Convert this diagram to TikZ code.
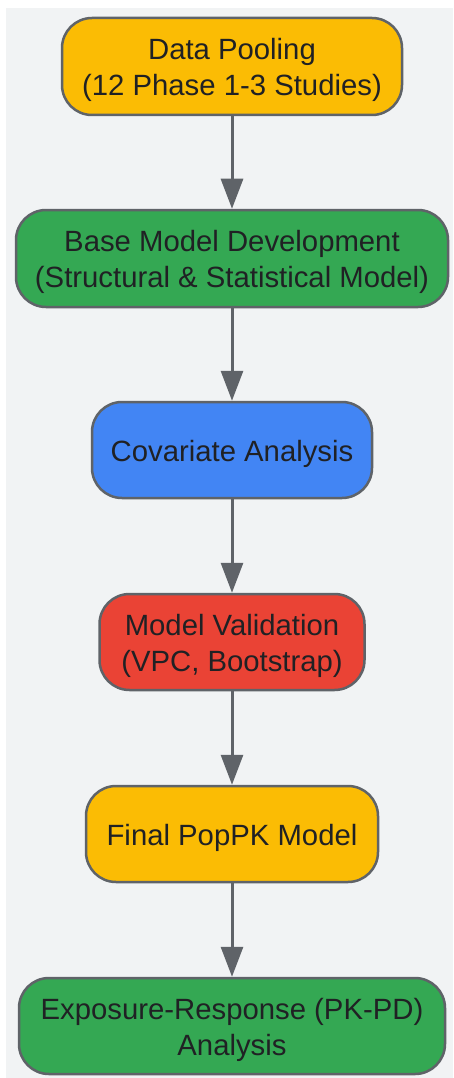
\documentclass[tikz,border=0pt]{standalone}
\usepackage{fontspec}
\setmainfont{Liberation Sans}
\usetikzlibrary{arrows.meta}
\definecolor{bg}{HTML}{F1F3F4}
\definecolor{edge}{HTML}{5F6368}
\definecolor{txt}{HTML}{202124}
\definecolor{gyellow}{HTML}{FBBC04}
\definecolor{ggreen}{HTML}{34A853}
\definecolor{gblue}{HTML}{4285F4}
\definecolor{gred}{HTML}{EA4335}
\newcommand{\topstrut}{\rule{0pt}{29pt}}
\tikzset{
  box/.style={draw=edge, line width=2.5pt, rounded corners=30pt, align=center,
    text=txt, font=\fontsize{29.3}{36}\selectfont, inner sep=0pt},
  conn/.style={draw=edge, line width=3pt, -{Triangle[length=30pt,width=22pt]}},
}
\begin{document}
\begin{tikzpicture}[x=1pt,y=-1pt]
\useasboundingbox (0,0) rectangle (453,1078);
\fill[bg] (6,8) rectangle (453,1078);
\node[box, fill=gyellow, minimum width=340pt, minimum height=97pt] (n1) at (232,66.5) {\topstrut Data Pooling\\(12 Phase 1-3 Studies)};
\node[box, fill=ggreen, minimum width=432pt, minimum height=97pt] (n2) at (232,258.5) {\topstrut Base Model Development\\(Structural \& Statistical Model)};
\node[box, fill=gblue, minimum width=280pt, minimum height=96pt] (n3) at (232,450) {\topstrut Covariate Analysis};
\node[box, fill=gred, minimum width=265pt, minimum height=96pt] (n4) at (232,642) {\topstrut Model Validation\\(VPC, Bootstrap)};
\node[box, fill=gyellow, minimum width=292pt, minimum height=96pt] (n5) at (232,834) {\topstrut Final PopPK Model};
\node[box, fill=ggreen, minimum width=426pt, minimum height=96pt] (n6) at (232,1026) {\topstrut Exposure-Response (PK-PD)\\Analysis};
\draw[conn] (n1) -- (n2);
\draw[conn] (n2) -- (n3);
\draw[conn] (n3) -- (n4);
\draw[conn] (n4) -- (n5);
\draw[conn] (n5) -- (n6);
\end{tikzpicture}
\end{document}
